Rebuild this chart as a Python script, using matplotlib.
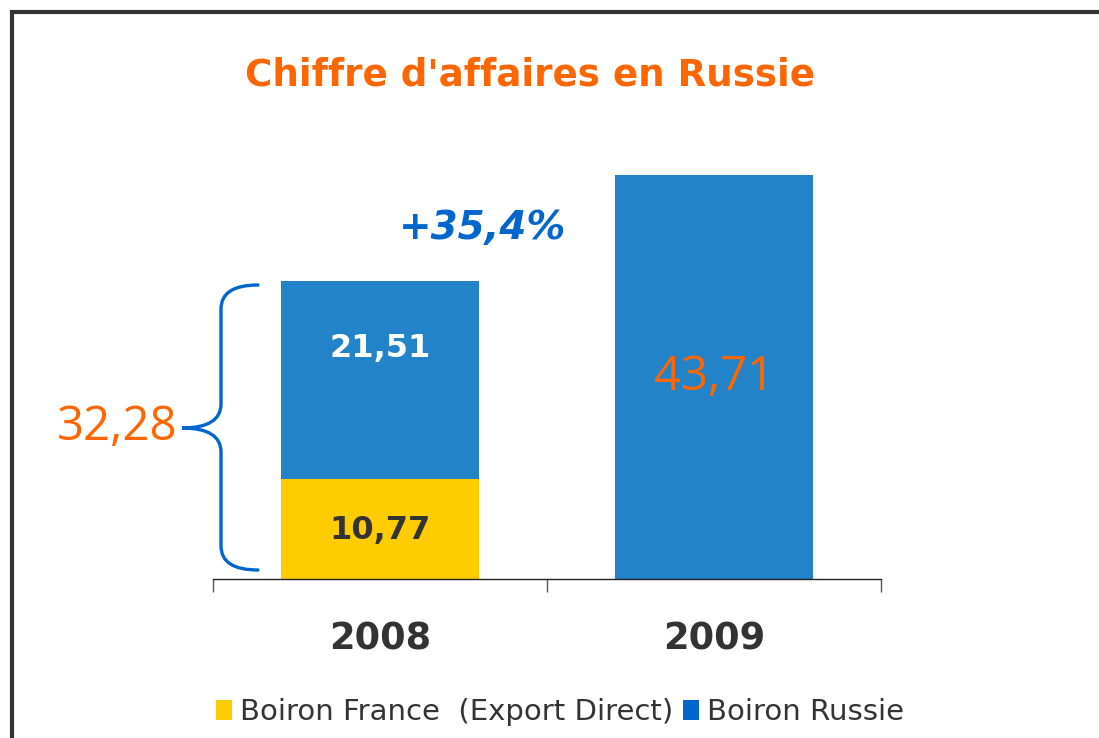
import matplotlib
matplotlib.use("Agg")
import matplotlib.pyplot as plt
from matplotlib.patches import Patch, PathPatch
from matplotlib.path import Path
from matplotlib.lines import Line2D

plt.rcParams['font.family'] = ['DejaVu Sans']

years = ["2008", "2009"]
france = [10.77, 0.0]
russie = [21.51, 43.71]
total_2008 = "32,28"
growth = "+35,4%"
labels_france = ["10,77", ""]
labels_russie = ["21,51", "43,71"]
title = "Chiffre d'affaires en Russie"
legend_labels = ["Boiron France  (Export Direct)", "Boiron Russie"]

YELLOW = "#FFCC00"
BLUE = "#2383C8"
LBLUE = "#0066CC"
ORANGE = "#FF6600"
DARK = "#333333"

W, H = 1099, 738
fig = plt.figure(figsize=(W / 100, H / 100), dpi=100)
ax = fig.add_axes([213 / W, (H - 579) / H, 668 / W, 462 / H])
ax.set_xlim(-0.5, 1.5)
ax.set_ylim(0, 50)

def ypx(v):
    # convert figure pixel row (from top) to data y
    return (579 - v) / 9.24

x = list(range(len(years)))
bw = 0.59
ax.bar(x, france, width=bw, color=YELLOW, zorder=2)
ax.bar(x, russie, width=bw, bottom=france, color=BLUE, zorder=2)

# value labels
ax.text(x[0], ypx(530), labels_france[0], ha="center", va="center",
        fontsize=23, fontweight="bold", color=DARK)
ax.text(x[0], ypx(349), labels_russie[0], ha="center", va="center",
        fontsize=23, fontweight="bold", color="white")
ax.text(x[1], ypx(377), labels_russie[1], ha="center", va="center",
        fontsize=34, color=ORANGE, family=["Open Sans", "DejaVu Sans"])

# spines / ticks
for s in ["top", "right", "left"]:
    ax.spines[s].set_visible(False)
ax.spines["bottom"].set_color("#222222")
ax.spines["bottom"].set_linewidth(1.0)
ax.set_yticks([])
ax.set_xticks([-0.5, 0.5, 1.5])
ax.set_xticklabels([])
ax.tick_params(axis="x", length=9, width=1, color="#555555", direction="out")
for xi, yl in zip(x, years):
    ax.text(xi, ypx(639), yl, ha="center", va="center", fontsize=26.5,
            fontweight="bold", color=DARK)

# brace (in figure pixel coords)
def px(xp, yp):
    return (xp / W, 1 - yp / H)

xv, xe, xt = 221, 258, 182
yt, yb, ym = 285, 570, 428
r = 24
verts = [px(xe, yt), px(xv, yt), px(xv, yt + r), px(xv, ym - r),
         px(xv, ym), px(xt, ym),
         px(xv, ym), px(xv, ym + r), px(xv, yb - r),
         px(xv, yb), px(xe, yb)]
codes = [Path.MOVETO, Path.CURVE3, Path.CURVE3, Path.LINETO,
         Path.CURVE3, Path.CURVE3,
         Path.CURVE3, Path.CURVE3, Path.LINETO,
         Path.CURVE3, Path.CURVE3]
brace = PathPatch(Path(verts, codes), transform=fig.transFigure,
                  fill=False, edgecolor=LBLUE, linewidth=2.4, capstyle="round")
fig.add_artist(brace)

fig.text(117 / W, 1 - 427 / H, total_2008, ha="center", va="center",
         fontsize=34, color=ORANGE, family=["Open Sans", "DejaVu Sans"])
fig.text(483 / W, 1 - 228 / H, growth, ha="center", va="center",
         fontsize=28, fontweight="bold", fontstyle="italic", color=LBLUE)

fig.text(530 / W, 1 - 75 / H, title, ha="center", va="center",
         fontsize=26.8, fontweight="bold", color=ORANGE)

handles = [Patch(facecolor=YELLOW), Patch(facecolor=LBLUE)]
fig.legend(handles, legend_labels, loc="center", bbox_to_anchor=(560 / W, 1 - 712 / H),
           ncol=2, frameon=False, fontsize=21, handlelength=0.55, handleheight=0.7,
           handletextpad=0.25, columnspacing=0.35, labelcolor=DARK)

# outer frame (top and left edges)
fig.add_artist(Line2D([12 / W, 12 / W, 1.0], [0.0, 1 - 12 / H, 1 - 12 / H],
                      transform=fig.transFigure, color="#333333", linewidth=3,
                      solid_joinstyle="miter"))

fig.savefig("out.png", dpi=100)
